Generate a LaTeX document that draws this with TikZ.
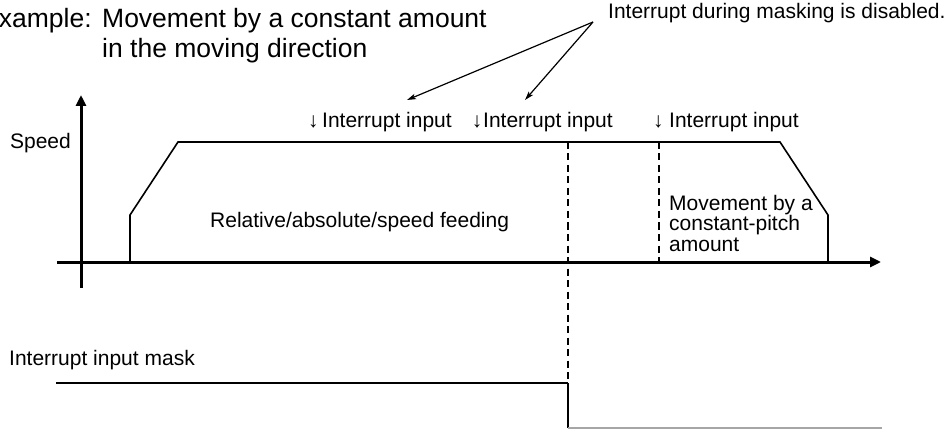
\documentclass[tikz,border=0pt]{standalone}
\usepackage{fontspec}
\setmainfont{Liberation Sans}
\usetikzlibrary{arrows.meta}
\newcommand\dnarrow[1]{\llap{↓\hspace{#1}}}
\begin{document}
\begin{tikzpicture}[x=1pt,y=-1pt,
  lbl/.style={inner sep=0pt, font=\fontsize{21}{20.5}\selectfont},
  ttl/.style={inner sep=0pt, font=\fontsize{26.5}{30}\selectfont, align=left},
  axis/.style={line width=3pt, -{Triangle[length=11pt,width=10pt]}},
  prof/.style={line width=1.6pt, line join=miter},
  dashline/.style={line width=1.3pt, dash pattern=on 7pt off 4.5pt},
  callout/.style={line width=1.2pt, -{Stealth[length=9pt,width=5.5pt,inset=2pt]}},
  maskhi/.style={line width=1.8pt},
  masklo/.style={line width=1.5pt, black!35}]
\useasboundingbox (0,0) rectangle (949,430);

% title and note
\node[ttl, anchor=north west] (title) at (102,8)
  {\llap{example:\hspace{10.5pt}}Movement by a constant amount\\in the moving direction};
\node[lbl, anchor=base west] (note) at (608,19) {Interrupt during masking is disabled.};
\coordinate (c0) at (593,22);
\coordinate (t1) at (407,100);
\coordinate (t2) at (525,100);
\draw[callout] (c0) -- (t1);
\draw[callout] (c0) -- (t2);

% interrupt labels
\node[lbl, anchor=base west] (i1) at (322,128) {\dnarrow{3.5pt}Interrupt input};
\node[lbl, anchor=base west] (i2) at (483,128) {\dnarrow{0.8pt}Interrupt input};
\node[lbl, anchor=base west] (i3) at (669,128) {\dnarrow{5.5pt}Interrupt input};

% axes
\coordinate (yb) at (81,288);
\coordinate (yt) at (81,95);
\coordinate (xl) at (57,262);
\coordinate (xr) at (881,262);
\draw[axis] (yb) -- (yt);
\draw[axis] (xl) -- (xr);
\node[lbl, anchor=base east] (speed) at (71,149) {Speed};

% speed profile
\coordinate (p0) at (130,262);
\coordinate (p1) at (130,215);
\coordinate (p2) at (178,142);
\coordinate (p3) at (780,142);
\coordinate (p4) at (828,215);
\coordinate (p5) at (828,262);
\draw[prof] (p0) -- (p1) -- (p2) -- (p3) -- (p4) -- (p5);

% dashed markers
\coordinate (d1t) at (568,142);
\coordinate (d2t) at (659,142);
\coordinate (d2b) at (659,262);

% mask signal
\coordinate (m0) at (56,383);
\coordinate (m1) at (568,383);
\coordinate (m2) at (568,428);
\coordinate (m3) at (882,428);
\draw[dashline] (d1t) -- (m1);
\draw[dashline] (d2t) -- (d2b);
\draw[maskhi] (m0) -- (m1);
\draw[line width=1.5pt] (m1) -- (m2);
\draw[masklo] (m2) -- (m3);

% texts in the chart
\node[lbl, anchor=base west] (feed) at (210,227) {Relative/absolute/speed feeding};
\node[lbl, anchor=north west, align=left] (pitch) at (669,195) {Movement by a\\constant-pitch\\amount};
\node[lbl, anchor=base west] (mask) at (9,365) {Interrupt input mask};
\end{tikzpicture}
\end{document}
